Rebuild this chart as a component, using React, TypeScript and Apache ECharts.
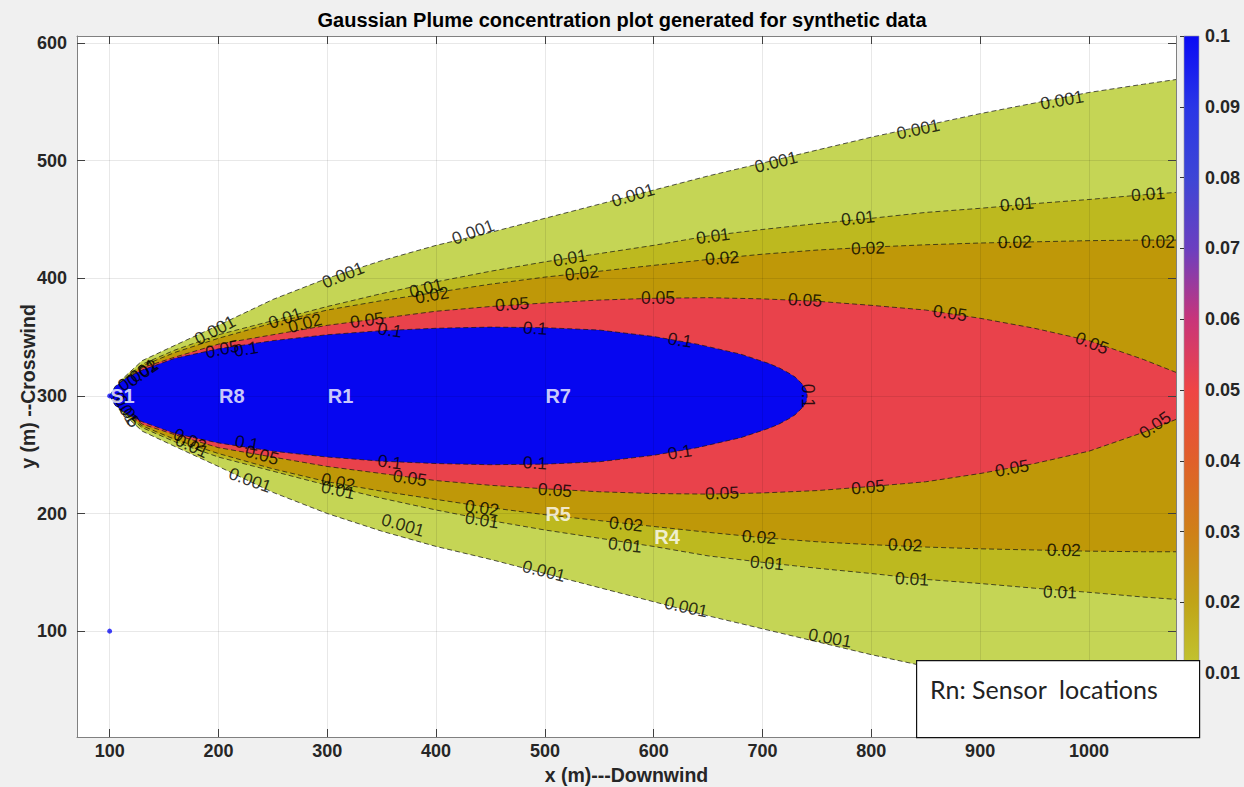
import React, { useEffect, useRef } from "react";
import * as echarts from "echarts";

const TITLE = "Gaussian Plume concentration plot generated for synthetic data";
const X_LABEL = "x (m)---Downwind";
const Y_LABEL = "y (m) --Crosswind";
const LEGEND_TEXT = "Rn: Sensor  locations";

const X_MIN = 70;
const X_MAX = 1080;
const Y_MIN = 10;
const Y_MAX = 606;
const X_TICKS = [100, 200, 300, 400, 500, 600, 700, 800, 900, 1000];
const Y_TICKS = [100, 200, 300, 400, 500, 600];
const CB_TICKS = [0.01, 0.02, 0.03, 0.04, 0.05, 0.06, 0.07, 0.08, 0.09, 0.1];
const CB_MIN = 0.001;
const CB_MAX = 0.1;

const CENTER_Y = 300;
const LEVELS = [0.001, 0.01, 0.02, 0.05, 0.1];
const LEVEL_COLORS = ["#c5d555", "#bdb91f", "#bf9808", "#e9424b", "#0606f0"];

// downwind positions where the contour half-widths were read
const PLUME_X = [100, 110, 130, 160, 200, 250, 300, 350, 400, 450, 500, 550, 600, 650, 700, 750, 800, 850, 900, 950, 1000, 1050, 1080];
const HW_0001 = [0, 13, 30, 43, 60, 82, 100, 115, 128, 139, 151, 163, 175, 187, 198, 209, 220, 230, 240, 249, 258, 265, 269];
const HW_001 = [0, 12, 27, 39, 52, 64, 76, 87, 97, 106, 114, 121, 128, 136, 141.5, 146.5, 151, 156, 159.5, 163.5, 167, 171, 173];
const HW_002 = [0, 11.5, 25.5, 37, 49, 62, 73, 81, 88, 95, 101, 106, 111, 116, 120.5, 124, 126.5, 128.5, 130, 131, 132, 132.5, 132.5];
const HW_005 = [0, 11, 24, 33, 44, 52, 60, 66, 72, 76, 79, 81.5, 83, 83.5, 82.5, 80.5, 77, 73, 66, 57.5, 47, 31, 20];
const BLUE_X = [100, 105, 115, 130, 160, 200, 250, 300, 350, 400, 450, 500, 550, 600, 640, 680, 706, 715, 724, 730, 736, 739, 740.5, 741];
const HW_01 = [0, 8, 15, 22, 32, 40, 47, 52, 55.5, 57.5, 58.5, 58, 56, 50.5, 44, 35.5, 27.5, 24, 19.5, 16, 10.5, 7, 4, 0];

// contour labels: [x, y, text, rotation]
const CONTOUR_LABELS: [number, number, string, number][] = [
  [196.8, 356, "0.001", 28], [314.5, 402.8, "0.001", 22], [434, 439.4, "0.001", 20], [581, 470.8, "0.001", 17],
  [712.4, 498.9, "0.001", 14], [843, 526.9, "0.001", 12], [975.2, 551.6, "0.001", 10],
  [229, 228.5, "0.001", -20], [369.6, 190.2, "0.001", -16], [499.2, 151.1, "0.001", -14], [629.7, 120.5, "0.001", -12], [762, 94.2, "0.001", -10],
  [261.2, 366.2, "0.01", 18], [390.7, 391.7, "0.01", 14], [523, 417.3, "0.01", 10], [654.5, 436, "0.01", 8],
  [787.7, 451.3, "0.01", 6], [933.9, 463.2, "0.01", 5], [1054.3, 471.7, "0.01", 4],
  [279.5, 362, "0.02", 15], [396.2, 385.8, "0.02", 10], [534, 404.5, "0.02", 6], [662.8, 417.3, "0.02", 4],
  [797, 425.8, "0.02", 2], [932, 430.9, "0.02", 1], [1063.4, 430.9, "0.02", 0],
  [203.3, 339.9, "0.05", 12], [336.5, 364.5, "0.05", 8], [469.8, 378.1, "0.05", 4], [604, 383.2, "0.05", 0],
  [739, 381.6, "0.05", -3], [872.3, 370.5, "0.05", -8], [1002.8, 345, "0.05", -22],
  [225.3, 339.9, "0.1", 10], [357.6, 356, "0.1", -8], [491, 357.7, "0.1", -3], [624, 347.5, "0.1", -8], [741.8, 300, "0.1", -90],
  [226.2, 260, "0.1", -10], [357.6, 243.8, "0.1", -8], [491, 243, "0.1", -4], [624, 252.3, "0.1", 8],
  [240, 249.8, "0.05", -15], [376, 230.2, "0.05", -8], [509.3, 220, "0.05", -4], [662.8, 217.5, "0.05", 2],
  [797, 222.6, "0.05", 5], [929.3, 238.7, "0.05", 10], [1060.7, 275.3, "0.05", 35],
  [173.8, 262.5, "0.02", -25], [309.9, 226.8, "0.02", -12], [442.2, 204.7, "0.02", -8], [574.5, 191.1, "0.02", -6],
  [696.8, 180, "0.02", -4], [831, 173.3, "0.02", -2], [977, 169, "0.02", -1],
  [175.7, 257.4, "0.01", -25], [309.9, 220, "0.01", -12], [442.2, 194.5, "0.01", -9], [573.6, 173.3, "0.01", -6],
  [704.1, 158, "0.01", -5], [837.4, 144.4, "0.01", -3], [973.4, 133.3, "0.01", -2],
  [125.5, 318, "0.001", 35], [130, 319.5, "0.02", 35], [114.1, 289.7, "0.01", -60], [116.5, 287, "0.05", -60],
];

// sensor / source labels: [x, y, name]
const SENSORS: [number, number, string][] = [
  [100, 300, "S1"], [200, 300, "R8"], [300, 300, "R1"], [500, 300, "R7"], [500, 200, "R5"], [600, 180, "R4"],
];
const SOURCE_POINTS: [number, number][] = [[100, 300], [100, 100]];

const CB_STOPS: [number, string][] = [
  [0.1, "#0a0af5"], [0.09, "#2a36e6"], [0.08, "#3d46d6"], [0.07, "#6b3fc0"], [0.06, "#c8357a"],
  [0.05, "#ef4545"], [0.04, "#e0602a"], [0.03, "#cf8018"], [0.02, "#c0a418"], [0.01, "#c2c833"], [0.001, "#c4d34a"],
];

const FONT = "Liberation Sans, Arial, Helvetica, sans-serif";

export default function App() {
  const ref = useRef<HTMLDivElement>(null);
  useEffect(() => {
    if (!ref.current) return;
    const chart = echarts.init(ref.current, undefined, { renderer: "svg" });
    const plumes = [
      { x: PLUME_X, hw: HW_0001 },
      { x: PLUME_X, hw: HW_001 },
      { x: PLUME_X, hw: HW_002 },
      { x: PLUME_X, hw: HW_005 },
      { x: BLUE_X, hw: HW_01 },
    ];
    const tickStyle = { inside: true, length: 8, lineStyle: { color: "#404040", width: 1 } };
    const axisLine = { show: true, lineStyle: { color: "#808080", width: 1 } };
    const labelStyle = { fontFamily: FONT, fontWeight: "bold" as const, fontSize: 18, color: "#262626" };
    const nameStyle = { fontFamily: FONT, fontWeight: "bold" as const, fontSize: 19.5, color: "#262626" };
    const dashLine = { stroke: "rgba(20,20,20,0.8)", lineWidth: 0.9, lineDash: [5, 3], fill: null };

    chart.setOption({
      animation: false,
      backgroundColor: "#f0f0f0",
      textStyle: { fontFamily: FONT },
      grid: [
        { left: 77, top: 36, width: 1099, height: 701, show: true, backgroundColor: "#ffffff", borderWidth: 0, outerBoundsMode: "none", containLabel: false },
        { left: 1184, top: 36, width: 15, height: 708, show: false, outerBoundsMode: "none", containLabel: false },
      ],
      xAxis: [
        {
          gridIndex: 0, type: "value", min: X_MIN, max: X_MAX, position: "bottom",
          axisLine, axisTick: { ...tickStyle, customValues: X_TICKS },
          axisLabel: { ...labelStyle, customValues: X_TICKS, margin: 5, formatter: (v: number) => String(v) },
          splitLine: { show: false },
          name: X_LABEL, nameLocation: "middle", nameGap: 28, nameTextStyle: nameStyle, nameMoveOverlap: false,
          z: 6,
        },
        {
          gridIndex: 0, type: "value", min: X_MIN, max: X_MAX, position: "top",
          axisLine, axisTick: { ...tickStyle, customValues: X_TICKS },
          axisLabel: { show: false }, splitLine: { show: false }, z: 6,
        },
        { gridIndex: 1, type: "value", min: 0, max: 1, show: false },
      ],
      yAxis: [
        {
          gridIndex: 0, type: "value", min: Y_MIN, max: Y_MAX, position: "left",
          axisLine, axisTick: { ...tickStyle, customValues: Y_TICKS },
          axisLabel: { ...labelStyle, customValues: Y_TICKS, margin: 10, formatter: (v: number) => String(v) },
          splitLine: { show: false },
          name: Y_LABEL, nameLocation: "middle", nameGap: 39, nameTextStyle: nameStyle, nameMoveOverlap: false,
          z: 6,
        },
        {
          gridIndex: 0, type: "value", min: Y_MIN, max: Y_MAX, position: "right",
          axisLine, axisTick: { ...tickStyle, customValues: Y_TICKS },
          axisLabel: { show: false }, splitLine: { show: false }, z: 6,
        },
        {
          gridIndex: 1, type: "value", min: 0, max: CB_MAX, position: "right",
          axisLine: { show: false },
          axisTick: { inside: true, length: 4, lineStyle: { color: "#333", width: 1 }, customValues: CB_TICKS },
          splitLine: { show: false },
          axisLabel: {
            ...labelStyle, margin: 6, customValues: CB_TICKS,
            formatter: (v: number) => String(Number(v.toFixed(2))),
          },
          z: 6,
        },
      ],
      graphic: [
        {
          type: "text", x: 622, y: 20, z: 10,
          style: { text: TITLE, fontFamily: FONT, fontWeight: "bold", fontSize: 20, fill: "#000", textAlign: "center", textVerticalAlign: "middle" },
        },
        {
          type: "rect", left: 916, top: 660, z: 20,
          shape: { width: 283, height: 77 },
          style: { fill: "#ffffff", stroke: "#111", lineWidth: 1.2 },
        },
        {
          type: "text", x: 930, y: 689, z: 21,
          style: { text: LEGEND_TEXT, fontFamily: "Lato, Open Sans, sans-serif", fontSize: 25, fill: "#222", textVerticalAlign: "middle" },
        },
      ],
      series: [
        {
          type: "custom", xAxisIndex: 0, yAxisIndex: 0, z: 2, silent: true, clip: true,
          data: plumes.map((p) => [p.x[0], CENTER_Y]),
          renderItem: (params: any, api: any) => {
            const p = plumes[params.dataIndex];
            const upper = p.x.map((x, i) => api.coord([x, CENTER_Y + p.hw[i]]));
            const lower = p.x.map((x, i) => api.coord([x, CENTER_Y - p.hw[i]]));
            const ring = upper.concat(lower.slice().reverse());
            return {
              type: "group",
              children: [
                { type: "polygon", shape: { points: ring }, style: { fill: LEVEL_COLORS[params.dataIndex] } },
                { type: "polyline", shape: { points: upper }, style: dashLine },
                { type: "polyline", shape: { points: lower }, style: dashLine },
              ],
            };
          },
        },
        {
          type: "scatter", xAxisIndex: 0, yAxisIndex: 0, z: 3, silent: true,
          symbolSize: 5, itemStyle: { color: "#1010ff" },
          data: SOURCE_POINTS,
          markLine: {
            silent: true, symbol: ["none", "none"], label: { show: false },
            lineStyle: { color: "rgba(0,0,0,0.09)", type: "solid", width: 1 },
            data: [...X_TICKS.map((v) => ({ xAxis: v })), ...Y_TICKS.map((v) => ({ yAxis: v }))],
          },
        },
        {
          type: "scatter", xAxisIndex: 0, yAxisIndex: 0, z: 5, silent: true, symbolSize: 0,
          data: CONTOUR_LABELS.map(([x, y, t, r]) => ({ name: t, value: [x, y], label: { rotate: r } })),
          label: {
            show: true, position: "inside", formatter: "{b}",
            fontFamily: FONT, fontSize: 17.5, color: "#000",
          },
        },
        {
          type: "scatter", xAxisIndex: 0, yAxisIndex: 0, z: 6, silent: true, symbolSize: 1,
          itemStyle: { color: "rgba(0,0,0,0)" },
          data: SENSORS.map(([x, y, n]) => ({ name: n, value: [x, y] })),
          label: {
            show: true, position: "right", distance: 0, formatter: "{b}",
            fontFamily: FONT, fontWeight: "bold", fontSize: 20, color: "#ffffff",
          },
        },
        {
          type: "custom", xAxisIndex: 2, yAxisIndex: 2, z: 2, silent: true,
          data: [[0, CB_MAX]],
          renderItem: (_params: any, api: any) => {
            const p1 = api.coord([0, CB_MAX]);
            const p2 = api.coord([1, CB_MIN]);
            const span = CB_MAX - CB_MIN;
            return {
              type: "rect",
              shape: { x: p1[0], y: p1[1], width: p2[0] - p1[0], height: p2[1] - p1[1] },
              style: {
                fill: new echarts.graphic.LinearGradient(0, 0, 0, 1,
                  CB_STOPS.map(([v, c]) => ({ offset: (CB_MAX - v) / span, color: c }))),
                stroke: "#9a9a9a", lineWidth: 0.6,
              },
            };
          },
        },
      ],
    });
    return () => chart.dispose();
  }, []);
  return <div ref={ref} style={{ position: "fixed", left: 0, top: 0, width: 1244, height: 787 }} />;
}
